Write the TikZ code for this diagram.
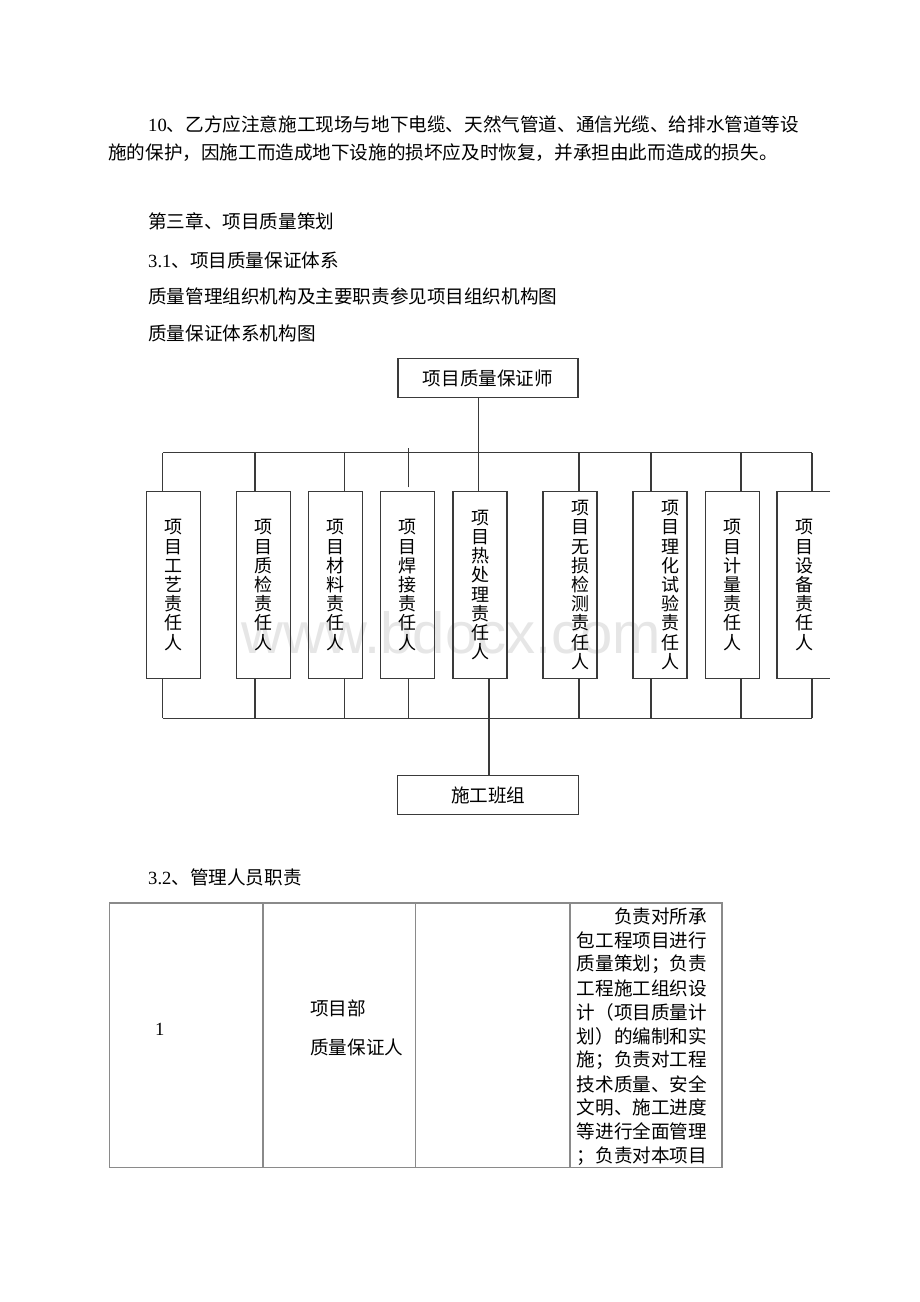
\documentclass[tikz,border=0pt]{standalone}
\usepackage{fontspec}
\setmainfont{Liberation Serif}
\newfontfamily\cjk{Noto Sans CJK SC}
\newfontfamily\wmfont{Liberation Sans}
\definecolor{ln}{HTML}{3A3A3A}
\definecolor{tb}{HTML}{8A8A8A}
\definecolor{wm}{HTML}{E6E6E6}
\begin{document}
\begin{tikzpicture}[x=1pt,y=-1pt,
  txt/.style={inner sep=0pt, font=\cjk\fontsize{18.6}{24}\selectfont, anchor=west},
  vbox/.style={draw=ln, line width=1.3pt, minimum width=54pt, minimum height=186.6pt, inner sep=0pt},
  obox/.style={minimum width=54pt, minimum height=186.6pt, inner sep=0pt},
  vtext/.style={inner sep=0pt, align=center, font=\cjk\fontsize{18}{19.2}\selectfont},
  hbox/.style={draw=ln, line width=1.3pt, minimum width=180pt, minimum height=39.5pt, inner sep=0pt, font=\cjk\fontsize{18.6}{24}\selectfont},
  conn/.style={draw=ln, line width=1.3pt},
  tline/.style={draw=tb, line width=1.6pt}]
\useasboundingbox[fill=white] (0,0) rectangle (920,1302);

% watermark
\node[inner sep=0pt, anchor=base, text=wm, font=\wmfont\fontsize{58}{60}\selectfont] (wmk) at (451.5,653) {www.bdocx.com};

% top text
\node[txt] (p1) at (148,124) {{\rmfamily 10}、乙方应注意施工现场与地下电缆、天然气管道、通信光缆、给排水管道等设};
\node[txt] (p2) at (108,153) {施的保护，因施工而造成地下设施的损坏应及时恢复，并承担由此而造成的损失。};
\node[txt] (h3) at (148,221) {第三章、项目质量策划};
\node[txt] (h31) at (148,260) {{\rmfamily 3.1}、项目质量保证体系};
\node[txt] (p3) at (148,296) {质量管理组织机构及主要职责参见项目组织机构图};
\node[txt] (p4) at (148,333) {质量保证体系机构图};

% chart
\node[hbox] (qa) at (488,378) {项目质量保证师};
\node[hbox, minimum width=181pt] (bz) at (488.3,795) {施工班组};

\node[vbox] (b1) at (173.7,585) {};
\node[vbox] (b2) at (263.7,585) {};
\node[vbox] (b3) at (335.7,585) {};
\node[vbox] (b4) at (407.7,585) {};
\node[vbox] (b5) at (480,585) {};
\node[vbox] (b6) at (570,585) {};
\node[vbox] (b7) at (660,585) {};
\node[vbox] (b8) at (732.2,585) {};
\node[obox] (b9) at (804.3,585) {};
\draw[conn] ([xshift=-1.3pt]b9.north east) -- (b9.north west) -- (b9.south west) -- ([xshift=-1.3pt]b9.south east);

\node[vtext] (t1) at (b1) {项\\目\\工\\艺\\责\\任\\人};
\node[vtext] (t2) at (b2) {项\\目\\质\\检\\责\\任\\人};
\node[vtext] (t3) at (b3) {项\\目\\材\\料\\责\\任\\人};
\node[vtext] (t4) at (b4) {项\\目\\焊\\接\\责\\任\\人};
\node[vtext] (t5) at (b5) {项\\目\\热\\处\\理\\责\\任\\人};
\node[vtext] (t6) at ([xshift=10pt]b6.center) {项\\目\\无\\损\\检\\测\\责\\任\\人};
\node[vtext] (t7) at ([xshift=10pt]b7.center) {项\\目\\理\\化\\试\\验\\责\\任\\人};
\node[vtext] (t8) at (b8) {项\\目\\计\\量\\责\\任\\人};
\node[vtext] (t9) at (b9) {项\\目\\设\\备\\责\\任\\人};

% buses
\coordinate (tl) at (162.7,452.7);
\coordinate (tr) at (812,452.7);
\coordinate (bl) at (162.7,718.3);
\coordinate (br) at (812,718.3);
\draw[conn] (tl) -- (tr);
\draw[conn] (bl) -- (br);

% top connector from the quality engineer
\draw[conn] ([xshift=-9.7pt]qa.south) -- ([xshift=-9.7pt]qa.south |- tl);

% connectors from top bus to boxes
\draw[conn] ([xshift=-11pt]b1.north) -- ([xshift=-11pt]b1.north |- tl);
\draw[conn] ([xshift=-8.7pt]b2.north) -- ([xshift=-8.7pt]b2.north |- tl);
\draw[conn] ([xshift=9pt]b3.north) -- ([xshift=9pt]b3.north |- tl);
\draw[conn] ([xshift=1pt,yshift=3.7pt]b4.north) -- ([xshift=1pt,yshift=42.7pt]b4.north);
\draw[conn] ([xshift=9pt]b6.north) -- ([xshift=9pt]b6.north |- tl);
\draw[conn] ([xshift=-9pt]b7.north) -- ([xshift=-9pt]b7.north |- tl);
\draw[conn] ([xshift=8.8pt]b8.north) -- ([xshift=8.8pt]b8.north |- tl);
\draw[conn] ([xshift=7.7pt]b9.north) -- ([xshift=7.7pt]b9.north |- tl);
\draw[conn] ([xshift=-1.7pt]b5.north) -- ([xshift=-1.7pt]b5.north |- tl);

% connectors from boxes to bottom bus
\draw[conn] ([xshift=-11pt]b1.south) -- ([xshift=-11pt]b1.south |- bl);
\draw[conn] ([xshift=-8.7pt]b2.south) -- ([xshift=-8.7pt]b2.south |- bl);
\draw[conn] ([xshift=9pt]b3.south) -- ([xshift=9pt]b3.south |- bl);
\draw[conn] ([xshift=1pt]b4.south) -- ([xshift=1pt]b4.south |- bl);
\draw[conn] ([xshift=9pt]b6.south) -- ([xshift=9pt]b6.south |- bl);
\draw[conn] ([xshift=-9pt]b7.south) -- ([xshift=-9pt]b7.south |- bl);
\draw[conn] ([xshift=8.8pt]b8.south) -- ([xshift=8.8pt]b8.south |- bl);
\draw[conn] ([xshift=7.7pt]b9.south) -- ([xshift=7.7pt]b9.south |- bl);
% box 5 down to the work team
\draw[conn] ([xshift=9pt]b5.south) -- ([xshift=9pt]b5.south |- bz.north);

% section 3.2
\node[txt] (h32) at (148,877) {{\rmfamily 3.2}、管理人员职责};

% table
\draw[tline] (109.3,902.7) rectangle (721.7,1167.5);
\draw[tline] (262.7,902.7) -- (262.7,1167.5);
\draw[tline] (415.5,902.7) -- (415.5,1167.5);
\draw[tline] (570,902.7) -- (570,1167.5);

\node[inner sep=0pt, font=\rmfamily\fontsize{18.6}{24}\selectfont] (c1) at (159.7,1029) {1};
\node[txt] (c2a) at (310,1008) {项目部};
\node[txt] (c2b) at (310,1047) {质量保证人};

\node[txt] (d1) at (613.9,916.7) {负责对所承};
\node[txt] (d2) at (576.7,940.6) {包工程项目进行};
\node[txt] (d3) at (576.7,964.5) {质量策划；负责};
\node[txt] (d4) at (576.7,988.4) {工程施工组织设};
\node[txt] (d5) at (576.7,1012.3) {计（项目质量计};
\node[txt] (d6) at (576.7,1036.2) {划）的编制和实};
\node[txt] (d7) at (576.7,1060.1) {施；负责对工程};
\node[txt] (d8) at (576.7,1084) {技术质量、安全};
\node[txt] (d9) at (576.7,1107.9) {文明、施工进度};
\node[txt] (d10) at (576.7,1131.8) {等进行全面管理};
\node[txt] (d11) at (576.7,1155.7) {；负责对本项目};
\end{tikzpicture}
\end{document}
